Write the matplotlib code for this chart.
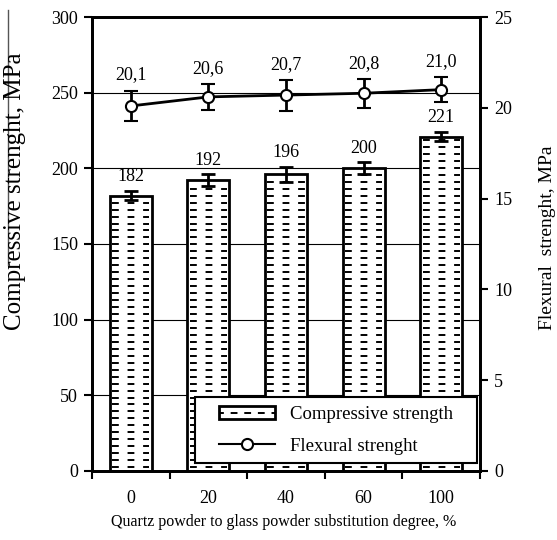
import numpy as np
import matplotlib
matplotlib.use("Agg")
import matplotlib.pyplot as plt
from matplotlib.patches import Patch, Rectangle
from matplotlib.lines import Line2D
from matplotlib.legend_handler import HandlerTuple

# data
categories = ["0", "20", "40", "60", "100"]
compressive = [182, 192, 196, 200, 221]
compressive_err = [3, 4, 5, 4, 3]
flexural = [20.1, 20.6, 20.7, 20.8, 21.0]
flexural_err = [0.85, 0.7, 0.85, 0.8, 0.7]

plt.rcParams["font.family"] = ["Liberation Serif", "DejaVu Serif"]

fig = plt.figure(figsize=(5.57, 5.40), dpi=100)
ax = fig.add_axes([0.165, 0.128, 0.697, 0.8405])
ax2 = ax.twinx()

x = np.arange(len(categories))
bar_w = 0.54

# grid behind the bars
ax.set_axisbelow(True)
ax.yaxis.grid(True, color="black", lw=0.8)

ax.bar(x, compressive, width=bar_w, facecolor="white", edgecolor="black",
       lw=2, zorder=2)

# dashed texture inside bars
row_step = 4.6
for xi, h in zip(x, compressive):
    rows = np.arange(2.5, h - 2, row_step)
    ax.hlines(rows, xi - bar_w / 2 + 0.03, xi + bar_w / 2 - 0.03,
              colors="black", lw=1.4, linestyles=(0, (3.5, 4.5)), zorder=3)

ax.errorbar(x, compressive, yerr=compressive_err, fmt="none", ecolor="black",
            elinewidth=2, capsize=5, capthick=2, zorder=4)
for xi, v, e in zip(x, compressive, compressive_err):
    ax.annotate(str(v), (xi, v + e), xytext=(0, 4), textcoords="offset points",
                ha="center", va="bottom", fontsize=13)

ax2.errorbar(x, flexural, yerr=flexural_err, fmt="-o", color="black", lw=2,
             ms=8, mfc="white", mec="black", mew=1.5, elinewidth=2,
             capsize=5, capthick=2, zorder=4)
for xi, v, e in zip(x, flexural, flexural_err):
    ax2.annotate(f"{v:.1f}".replace(".", ","), (xi, v + e), xytext=(0, 5),
                 textcoords="offset points", ha="center", va="bottom",
                 fontsize=13)

ax.set_xlim(-0.5, len(categories) - 0.5)
ax.set_ylim(0, 300)
ax.set_yticks(np.arange(0, 301, 50))
ax2.set_ylim(0, 25)
ax2.set_yticks(np.arange(0, 26, 5))

ax.set_xticks(x)
ax.set_xticklabels(categories)
ax.set_xticks(np.arange(-0.5, len(categories)), minor=True)
ax.tick_params(axis="x", which="major", length=0, pad=14, labelsize=13)
ax.tick_params(axis="x", which="minor", length=6, width=1.5, direction="out")
ax.tick_params(axis="y", length=6, width=1.5, direction="out", labelsize=13, pad=4)
ax2.tick_params(axis="y", length=6, width=1.5, direction="out", labelsize=13, pad=4)

for a in (ax, ax2):
    for s in a.spines.values():
        s.set_linewidth(2)

# legend with opaque frame
box = Rectangle((0.265, 0.017), 0.727, 0.145, transform=ax2.transAxes,
                facecolor="white", edgecolor="black", lw=1.5, zorder=5)
ax2.add_patch(box)
bar_handle = (Patch(facecolor="white", edgecolor="black", lw=2),
              Line2D([], [], color="black", lw=1.4, ls=(1, (3.5, 3.5))))
line_handle = Line2D([], [], color="black", lw=1.5, marker="o", ms=8,
                     mfc="white", mec="black", mew=1.5)
leg = ax2.legend([bar_handle, line_handle],
                 ["Compressive strength", "Flexural strenght"],
                 handler_map={tuple: HandlerTuple(ndivide=1, pad=0)},
                 loc="center", bbox_to_anchor=(0.6285, 0.0895), frameon=False,
                 fontsize=13.5, handlelength=3.0, handletextpad=0.8,
                 labelspacing=0.76, borderpad=0)
leg.set_zorder(6)

fig.text(15 / 557, 1 - 191 / 540, "Compressive strenght, MPa", rotation=90,
         ha="center", va="center", fontsize=18)
fig.text(547 / 557, 1 - 238 / 540, "Flexural  strenght, MPa", rotation=90,
         ha="center", va="center", fontsize=14)
fig.text(284 / 557, 1 - 522 / 540,
         "Quartz powder to glass powder substitution degree, %",
         ha="center", va="center", fontsize=11.5)

# thin crop line at the left edge of the reference image
fig.add_artist(Line2D([8 / 557, 8 / 557], [1 - 10 / 540, 1 - 265 / 540],
                      transform=fig.transFigure, color="#555555", lw=1))

fig.savefig("out.png", dpi=100)
